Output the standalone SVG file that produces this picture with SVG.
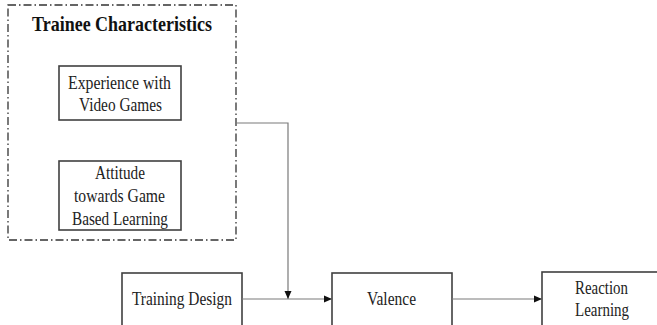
<svg xmlns="http://www.w3.org/2000/svg" width="657" height="325" viewBox="0 0 657 325">
<style>
.box{fill:#fff;stroke:#404040;stroke-width:1.6}
.t{font-family:"Liberation Serif","Times New Roman",serif;font-size:18.5px;fill:#222;text-anchor:start}
.title{font-family:"Liberation Serif","Times New Roman",serif;font-size:21px;font-weight:bold;fill:#111}
.con{fill:none;stroke:#7a7a7a;stroke-width:1.2}
</style>
<defs>
<marker id="ah" markerWidth="8" markerHeight="8" refX="8" refY="4" orient="auto" markerUnits="userSpaceOnUse">
<path d="M0,0.5 L8,4 L0,7.5 Z" fill="#111"/>
</marker>
</defs>
<rect width="657" height="325" fill="#fff"/>
<g id="trainee-characteristics">
<rect x="8" y="5" width="228" height="235" fill="none" stroke="#333" stroke-width="1.3" stroke-dasharray="8 3 1.5 3"/>
<text class="title" x="32" y="31" textLength="180" lengthAdjust="spacingAndGlyphs">Trainee Characteristics</text>
</g>
<g id="experience">
<rect class="box" x="59" y="66" width="122" height="54"/>
<text class="t" x="68" y="89" textLength="103" lengthAdjust="spacingAndGlyphs">Experience with</text>
<text class="t" x="79" y="111" textLength="83" lengthAdjust="spacingAndGlyphs">Video Games</text>
</g>
<g id="attitude">
<rect class="box" x="59" y="161" width="122" height="69"/>
<text class="t" x="95" y="179" textLength="50" lengthAdjust="spacingAndGlyphs">Attitude</text>
<text class="t" x="74" y="202" textLength="91" lengthAdjust="spacingAndGlyphs">towards Game</text>
<text class="t" x="72" y="225" textLength="96" lengthAdjust="spacingAndGlyphs">Based Learning</text>
</g>
<g id="training-design">
<rect class="box" x="122" y="273" width="120" height="70"/>
<text class="t" x="132" y="305" textLength="100" lengthAdjust="spacingAndGlyphs">Training Design</text>
</g>
<g id="valence">
<rect class="box" x="332" y="273" width="120" height="70"/>
<text class="t" x="367" y="305" textLength="49" lengthAdjust="spacingAndGlyphs">Valence</text>
</g>
<g id="reaction-learning">
<rect class="box" x="542" y="272" width="130" height="70"/>
<text class="t" x="575" y="294" textLength="53" lengthAdjust="spacingAndGlyphs">Reaction</text>
<text class="t" x="575" y="316" textLength="54" lengthAdjust="spacingAndGlyphs">Learning</text>
</g>
<g id="connectors">
<path class="con" d="M236,123 H288 V299" marker-end="url(#ah)"/>
<path class="con" d="M242,299 H332" marker-end="url(#ah)"/>
<path class="con" d="M452,299 H542" marker-end="url(#ah)"/>
</g>
</svg>
